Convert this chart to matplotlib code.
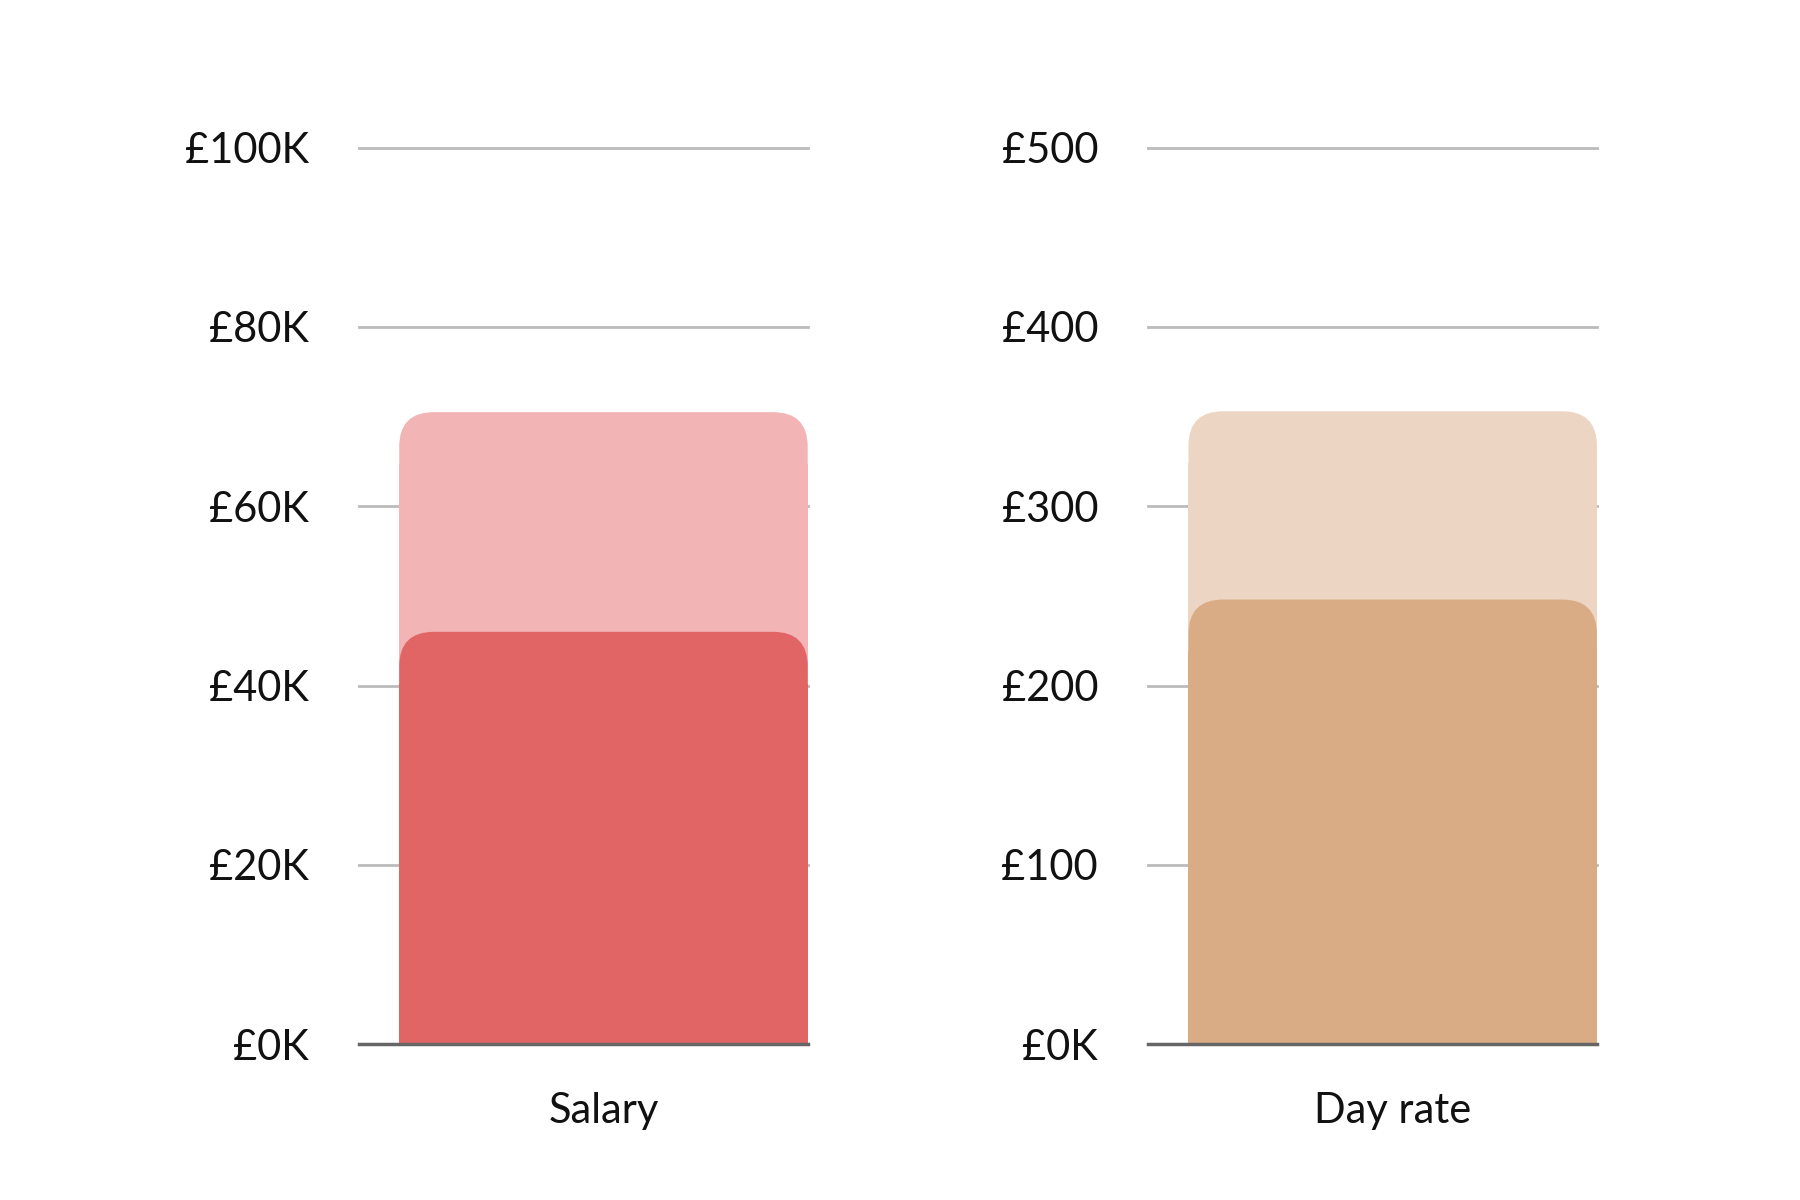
import matplotlib
matplotlib.use("Agg")
import matplotlib.pyplot as plt
from matplotlib.patches import FancyBboxPatch, Rectangle

panels = ["Salary", "Day rate"]
high_vals = [70.5, 353]
low_vals = [46, 248]
ymax = [100, 500]
tick_vals = [[0, 20, 40, 60, 80, 100], [0, 100, 200, 300, 400, 500]]
tick_labels = [["£0K", "£20K", "£40K", "£60K", "£80K", "£100K"],
               ["£0K", "£100", "£200", "£300", "£400", "£500"]]
light_colors = ["#F2B4B5", "#EDD5C3"]
dark_colors = ["#E26565", "#D9AC85"]

W, H = 1560, 1040
fig = plt.figure(figsize=(18, 12), dpi=100)
plt.rcParams["font.family"] = "Lato"

for i, left_px in enumerate([311, 995]):
    ax = fig.add_axes([left_px / W, 1 - 905 / H, 389 / W, 777 / H])
    ym = ymax[i]
    ax.set_xlim(0, 1)
    ax.set_ylim(0, ym)
    for s in ax.spines.values():
        s.set_visible(False)
    ax.set_xticks([])
    ax.set_yticks(tick_vals[i])
    ax.set_yticklabels(tick_labels[i], fontsize=30, color="#111111")
    ax.tick_params(axis="y", length=0, pad=36)
    for t in tick_vals[i][1:]:
        ax.axhline(t, color="#BBBBBB", lw=2, zorder=1, clip_on=False)
    ax.axhline(0, color="#666666", lw=2.5, zorder=5, clip_on=False)
    x0 = 35 / 389
    rx = 30 / 389
    ry = 30 * ym / 777
    for val, col in [(high_vals[i], light_colors[i]), (low_vals[i], dark_colors[i])]:
        p = FancyBboxPatch((x0, 0), 1 - x0, val,
                           boxstyle=f"round,pad=0,rounding_size={rx}",
                           mutation_aspect=ry / rx, fc=col, ec="none", zorder=3)
        ax.add_patch(p)
        ax.add_patch(Rectangle((x0, 0), 1 - x0, val - ry * 1.5, fc=col, ec="none", zorder=3))
    ax.text((x0 + 1) / 2, -58 * ym / 777, panels[i], ha="center", va="center",
            fontsize=30, color="#111111")

fig.savefig("out.png", dpi=100)
